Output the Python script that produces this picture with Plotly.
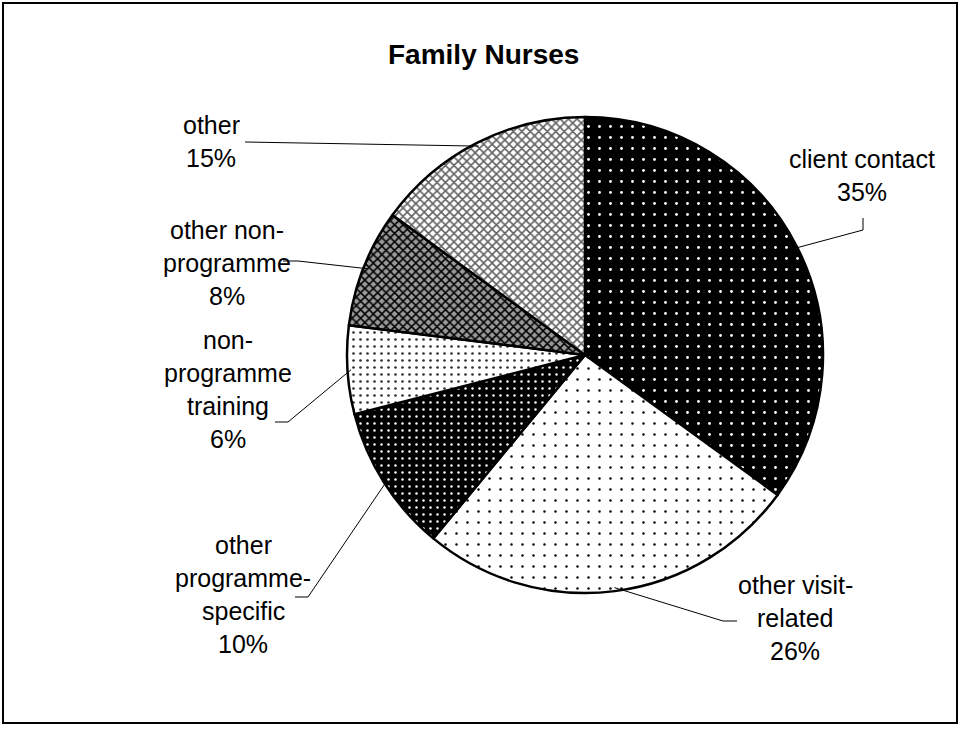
import math
import plotly.graph_objects as go

# ---- data ----
categories = ["client contact", "other visit-related", "other programme-specific",
              "non-programme training", "other non-programme", "other"]
label_lines = [["client contact"], ["other visit-", "related"], ["other", "programme-", "specific"],
               ["non-", "programme", "training"], ["other non-", "programme"], ["other"]]
values = [35, 26, 10, 6, 8, 15]
title_text = "Family Nurses"

# ---- styles / layout ----
W, H = 960, 729
CX, CY, R = 585, 355, 238  # pixel coordinates of pie
pattern_shape = [".", ".", ".", ".", "x", "x"]
pattern_bg = ["#000000", "#ffffff", "#000000", "#ffffff", "#9a9a9a", "#ffffff"]
pattern_fg = ["#ffffff", "#000000", "#ffffff", "#333333", "#000000", "#606060"]
pattern_size = [11, 11, 7, 7, 6, 6]
pattern_solid = [0.05, 0.04, 0.1, 0.12, 0.45, 0.45]

# label block positions (px): centre x, first line y
label_pos = [(862, 159), (795, 585), (243, 545), (228, 340), (227, 230), (211, 125)]
# leader line knee and end points (px)
leader_knee = [(863, 230), (723, 621), (308, 597), (288, 422), (298, 261), (245, 142)]
leader_end = [(863, 218), (737, 621), (295, 597), (275, 422), (283, 261), (245, 142)]
LINE_GAP = 33
FONT = "Liberation Sans, Arial, sans-serif"


def px(x):
    return x / W


def py(y):
    return 1 - y / H


fig = go.Figure(go.Pie(
    labels=categories,
    values=values,
    sort=False,
    direction="clockwise",
    rotation=0,
    textinfo="none",
    hoverinfo="label+percent",
    marker=dict(
        colors=pattern_bg,
        line=dict(color="#000000", width=2.5),
        pattern=dict(shape=pattern_shape, bgcolor=pattern_bg, fgcolor=pattern_fg,
                     size=pattern_size, solidity=pattern_solid, fillmode="replace"),
    ),
    domain=dict(x=[px(CX - R), px(CX + R)], y=[py(CY + R), py(CY - R)]),
    showlegend=False,
))

annotations = []
shapes = []
total = sum(values)
cum = 0
for i, v in enumerate(values):
    mid = (cum + v / 2) / total * 2 * math.pi
    cum += v
    ex = CX + 0.985 * R * math.sin(mid)
    ey = CY - 0.985 * R * math.cos(mid)
    kx, ky = leader_knee[i]
    lx, ly = leader_end[i]
    path = f"M {px(ex)} {py(ey)} L {px(kx)} {py(ky)} L {px(lx)} {py(ly)}"
    shapes.append(dict(type="path", xref="paper", yref="paper", path=path,
                       line=dict(color="#000000", width=1)))
    lines = label_lines[i] + [f"{v}%"]
    cx0, cy0 = label_pos[i]
    for j, t in enumerate(lines):
        annotations.append(dict(text=t, x=px(cx0), y=py(cy0 + j * LINE_GAP),
                                xref="paper", yref="paper", showarrow=False,
                                xanchor="center", yanchor="middle",
                                font=dict(family=FONT, size=25, color="#000000")))

annotations.append(dict(text=f"<b>{title_text}</b>", x=px(483), y=py(55), xref="paper", yref="paper",
                        showarrow=False, xanchor="center", yanchor="middle",
                        font=dict(family=FONT, size=28, color="#000000")))

shapes.append(dict(type="rect", xref="paper", yref="paper", x0=px(3), y0=py(723), x1=px(957), y1=py(3),
                   line=dict(color="#000000", width=2)))

fig.update_layout(width=W, height=H, margin=dict(l=0, r=0, t=0, b=0),
                  paper_bgcolor="#ffffff", plot_bgcolor="#ffffff",
                  annotations=annotations, shapes=shapes)

fig.write_html("out.html", config={"displayModeBar": False},
               post_script="document.body.style.margin='0';document.body.style.overflow='hidden';")
